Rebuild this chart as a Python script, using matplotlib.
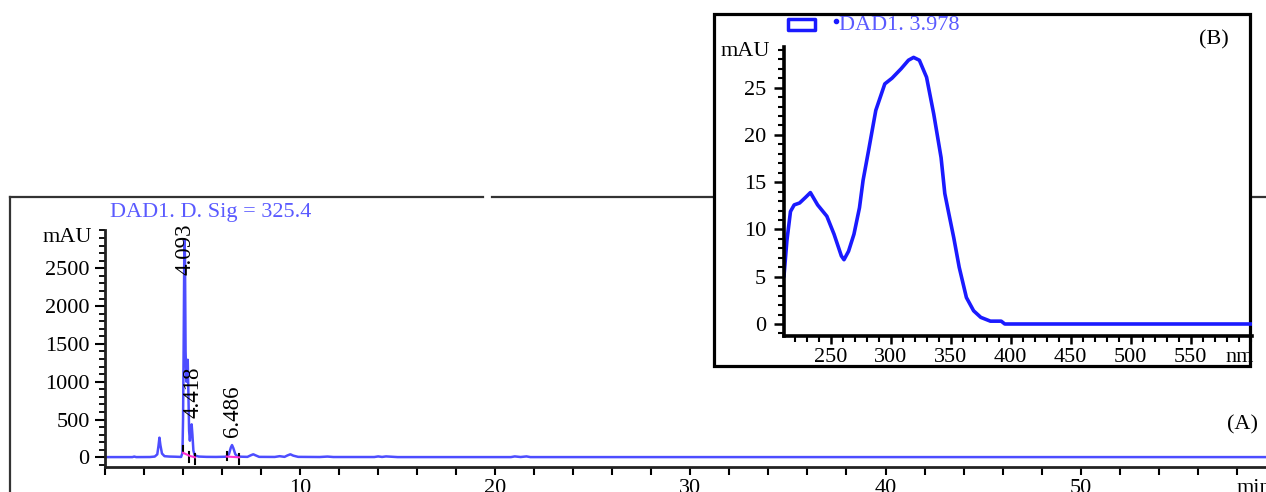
import matplotlib
matplotlib.use("Agg")
import matplotlib.pyplot as plt
from matplotlib.patches import Rectangle
from matplotlib.lines import Line2D
from matplotlib.ticker import MultipleLocator

# chromatogram (A), DAD1 signal at 325.4 nm
time_min = [0.0, 1.4, 1.5, 1.6, 2.3, 2.55, 2.68, 2.74, 2.79, 2.84, 2.92, 3.05, 3.3, 3.6,
            3.9, 3.97, 4.00, 4.03, 4.06, 4.08, 4.10, 4.13, 4.17, 4.21, 4.24, 4.27,
            4.31, 4.35, 4.40, 4.44, 4.48, 4.53, 4.60, 4.80, 5.2, 5.7, 6.2, 6.35,
            6.45, 6.51, 6.58, 6.68, 6.8, 7.0, 7.3, 7.5, 7.6, 7.7, 7.9, 8.7, 8.95,
            9.2, 9.35, 9.5, 9.65, 9.9, 11.0, 11.4, 11.7, 13.8, 14.0, 14.2, 14.4,
            15.0, 20.8, 21.0, 21.3, 21.6, 21.8, 22.1, 59.5]
signal_mau = [3, 3, 10, 3, 4, 10, 40, 150, 260, 160, 50, 15, 10, 8,
              5, 60, 500, 1450, 2600, 2880, 2600, 1400, 1000, 1150, 1290, 900,
              350, 220, 380, 436, 300, 90, 25, 10, 6, 5, 8, 40,
              130, 162, 120, 40, 12, 8, 6, 30, 40, 28, 6, 5, 15,
              6, 25, 40, 22, 6, 4, 10, 4, 4, 12, 5, 12,
              3, 3, 12, 4, 12, 3, 3, 3]
peak_times = [4.093, 4.418, 6.486]
peak_label_pos = [(4.10, 2411), (4.49, 518), (6.53, 268)]
# integration event marks and baselines
event_marks = [(4.00, 75, 150), (4.33, -60, 75), (4.61, -90, 40), (6.24, -30, 75), (6.87, -90, 40)]
baseline_segs = [([4.00, 4.33, 4.61], [60, 20, 0]), ([6.24, 6.87], [10, 0])]

# UV spectrum (B), DAD1 at 3.978 min
wavelength_nm = [211, 213.4, 216.4, 219.5, 224, 229, 233, 239, 246.7, 252.7, 258.8, 261,
                 264.8, 269.3, 273.9, 276.9, 281.4, 287.5, 295, 301, 308.6, 314.7, 319,
                 323.8, 329.8, 335.8, 341.9, 345, 348, 352.5, 357, 363, 369, 375, 383,
                 392, 395, 601]
absorb_mau = [5.1, 8.8, 11.9, 12.6, 12.8, 13.4, 13.9, 12.6, 11.4, 9.5, 7.2, 6.8,
              7.7, 9.5, 12.3, 15.2, 18.3, 22.6, 25.4, 26.0, 27.0, 27.9, 28.2,
              27.9, 26.1, 22.2, 17.6, 13.8, 11.9, 9.1, 6.0, 2.8, 1.4, 0.7, 0.3,
              0.3, 0.0, 0.0]

W, H = 1266, 492
FS = 16


def fx(px):
    return px / W


def fy(py):
    return 1 - py / H


plt.rcParams['font.family'] = ['Liberation Serif', 'DejaVu Serif']
fig = plt.figure(figsize=(W / 100, H / 100), dpi=100)

# outer frame of panel A (broken top line)
frame_kw = dict(color='#333333', lw=1.6, transform=fig.transFigure, zorder=1)
fig.add_artist(Line2D([fx(10), fx(483)], [fy(197), fy(197)], **frame_kw))
fig.add_artist(Line2D([fx(492), fx(1266)], [fy(197), fy(197)], **frame_kw))
fig.add_artist(Line2D([fx(10), fx(10)], [fy(197), 0], **frame_kw))

# ---- panel A ----
ax = fig.add_axes([fx(105), fy(466.7), (W - 105) / W, (466.7 - 230) / H])
ax.plot(time_min, signal_mau, color='#3a3aff', lw=1.8, alpha=0.9)
for t, lo, hi in event_marks:
    ax.plot([t, t], [lo, hi], color='black', lw=1.5)
for xs, ys in baseline_segs:
    ax.plot(xs, ys, color='#ff2fd0', lw=1.5)
for rt, (px, py) in zip(peak_times, peak_label_pos):
    ax.text(px, py, f'{rt:.3f}', rotation=90, ha='center', va='bottom', fontsize=16.5)

ax.set_xlim(0, 59.5)
ax.set_ylim(-124, 3006)
ax.set_xticks([10, 20, 30, 40, 50])
ax.xaxis.set_minor_locator(MultipleLocator(2))
ax.set_yticks([0, 500, 1000, 1500, 2000, 2500])
ax.yaxis.set_minor_locator(MultipleLocator(100))
ax.tick_params(axis='x', which='both', length=6, width=1.5, labelsize=FS, pad=3)
ax.tick_params(axis='y', which='major', length=7, width=1.5, labelsize=FS, pad=4)
ax.tick_params(axis='y', which='minor', length=4, width=1.3)
for s in ['top', 'right']:
    ax.spines[s].set_visible(False)
for s in ['left', 'bottom']:
    ax.spines[s].set_linewidth(2)
    ax.spines[s].set_color('#222222')
ax.patch.set_alpha(0)
ax.annotate('min', xy=(58.9, 0), xycoords=('data', 'axes fraction'),
            xytext=(0, -8.5), textcoords='offset points', ha='center', va='top',
            fontsize=FS, annotation_clip=False)

fig.text(fx(110), fy(212), 'DAD1. D. Sig = 325.4', ha='left', va='center',
         color='#5a5aff', fontsize=16)
fig.text(fx(92), fy(238), 'mAU', ha='right', va='center', fontsize=FS)
fig.text(fx(1242), fy(425), '(A)', ha='center', va='center', fontsize=FS)

# ---- panel B (inset) ----
fig.add_artist(Rectangle((fx(714), fy(366)), (1250 - 714) / W, (366 - 14) / H,
                         transform=fig.transFigure, facecolor='white',
                         edgecolor='black', lw=2.3, zorder=3))
ax2 = fig.add_axes([fx(784), fy(336), (1252 - 784) / W, (336 - 47) / H])
ax2.set_zorder(4)
ax2.patch.set_alpha(0)
ax2.plot(wavelength_nm, absorb_mau, color='#1a1aff', lw=2.6)
ax2.set_xlim(211, 601)
ax2.set_ylim(-1.27, 29.3)
ax2.set_xticks([250, 300, 350, 400, 450, 500, 550])
ax2.xaxis.set_minor_locator(MultipleLocator(10))
ax2.set_yticks([0, 5, 10, 15, 20, 25])
ax2.yaxis.set_minor_locator(MultipleLocator(1))
ax2.tick_params(axis='x', which='major', length=6, width=1.8, labelsize=FS, pad=3)
ax2.tick_params(axis='x', which='minor', length=4, width=1.5)
ax2.tick_params(axis='y', which='major', length=7, width=1.8, labelsize=FS, pad=6)
ax2.tick_params(axis='y', which='minor', length=4, width=1.5)
for s in ['top', 'right']:
    ax2.spines[s].set_visible(False)
for s in ['left', 'bottom']:
    ax2.spines[s].set_linewidth(2.6)
    ax2.spines[s].set_color('black')
ax2.annotate('nm', xy=(591, 0), xycoords=('data', 'axes fraction'),
             xytext=(0, -8.5), textcoords='offset points', ha='center', va='top',
             fontsize=FS, annotation_clip=False)

fig.text(fx(770), fy(52), 'mAU', ha='right', va='center', fontsize=FS, zorder=5)
fig.text(fx(1214), fy(40), '(B)', ha='center', va='center', fontsize=FS, zorder=5)
fig.add_artist(Rectangle((fx(788), fy(30)), 27 / W, 11 / H, transform=fig.transFigure,
                         facecolor='white', edgecolor='#1a1aff', lw=2.5,
                         joinstyle='round', zorder=5))
fig.add_artist(Line2D([fx(836)], [fy(21)], marker='o', ms=3, color='#1a1aff',
                      transform=fig.transFigure, zorder=5))
fig.text(fx(839), fy(26), 'DAD1. 3.978', ha='left', va='center', color='#5a5aff',
         fontsize=16, zorder=5)

fig.savefig('out.png', dpi=100)
